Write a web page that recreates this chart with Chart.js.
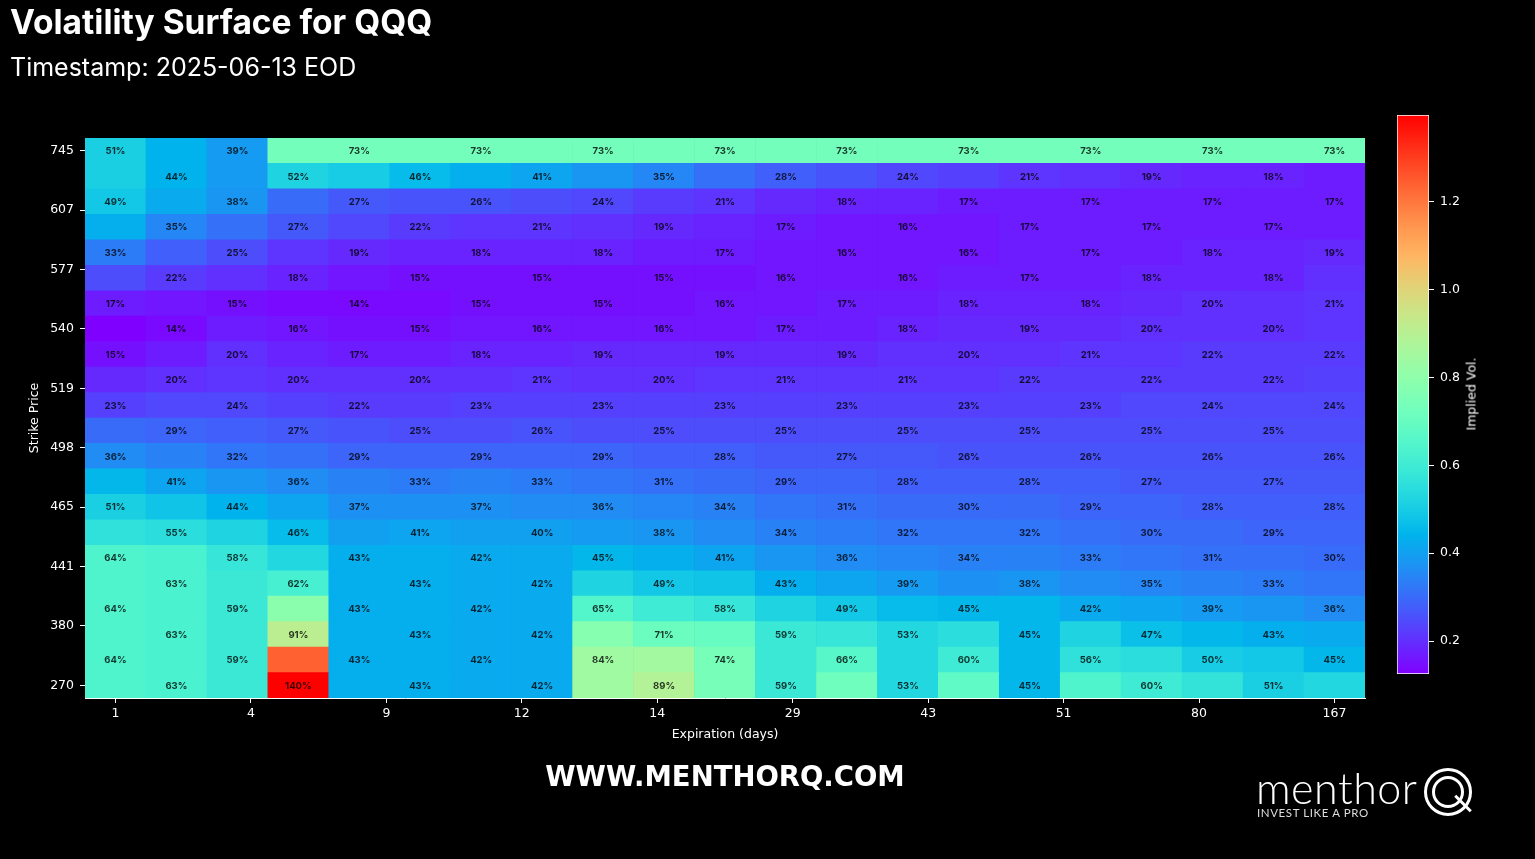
<!DOCTYPE html>
<html>
<head>
<meta charset="utf-8">
<script src="https://cdn.jsdelivr.net/npm/chart.js@4.4.1/dist/chart.umd.min.js"></script>
<style>
  html, body { margin:0; padding:0; background:#000; }
  body { width:1535px; height:859px; position:relative; overflow:hidden; font-family:'DejaVu Sans', sans-serif; }
  #main { position:absolute; left:0; top:0; }
  #cbar { position:absolute; left:1380px; top:100px; }
  .txt { position:absolute; color:#fff; white-space:nowrap; }
  #title { left:10px; top:2px; font-family:Inter, sans-serif; font-weight:700; font-size:33.5px; }
  #subtitle { left:10px; top:52px; font-family:Inter, sans-serif; font-weight:400; font-size:25px; }
  #cblabel { left:1471px; top:394px; font-size:12.5px; font-weight:400; transform:translate(-50%,-50%) rotate(-90deg); }
  #site { left:725px; top:776px; transform:translate(-50%,-50%); font-weight:700; font-size:27.5px; }
  #logo-text { left:1256px; top:762px; font-family:Lato, sans-serif; font-weight:300; font-size:43px; letter-spacing:0.5px; }
  #logo-tag { left:1257px; top:806px; font-family:Lato, sans-serif; font-size:11.5px; letter-spacing:0.6px; color:#ddd; }
  .ring { position:absolute; border:3px solid #fff; border-radius:50%; box-sizing:border-box; }
  #qtail { position:absolute; left:1452px; top:802px; width:22px; height:3px; background:#fff; transform:rotate(45deg); }
</style>
</head>
<body>
<canvas id="main" width="1535" height="859"></canvas>
<canvas id="cbar" width="155" height="600"></canvas>
<div class="txt" id="title">Volatility Surface for QQQ</div>
<div class="txt" id="subtitle">Timestamp: 2025-06-13 EOD</div>
<div class="txt" id="cblabel">Implied Vol.</div>
<div class="txt" id="site">WWW.MENTHORQ.COM</div>
<div class="txt" id="logo-text">menthor</div>
<div class="txt" id="logo-tag">INVEST LIKE A PRO</div>
<div class="ring" style="left:1424px;top:768px;width:48px;height:48px;"></div>
<div class="ring" style="left:1432px;top:776px;width:32px;height:32px;"></div>
<div id="qtail"></div>
<script>
// ---- data ----
const expirationLabels = ["1","4","9","12","14","29","43","51","80","167"];
const strikeLabels = ["745","607","577","540","519","498","465","441","380","270"];
// implied vol per strike row (top = 745 ... bottom = 270), per expiration column
const ivGrid = [
 [0.51,0.44,0.39,0.73,0.73,0.73,0.73,0.73,0.73,0.73,0.73,0.73,0.73,0.73,0.73,0.73,0.73,0.73,0.73,0.73,0.73],
 [0.51,0.44,0.39,0.52,0.50,0.46,0.43,0.41,0.38,0.35,0.31,0.28,0.26,0.24,0.23,0.21,0.20,0.19,0.18,0.18,0.17],
 [0.49,0.42,0.38,0.30,0.27,0.26,0.26,0.25,0.24,0.22,0.21,0.19,0.18,0.18,0.17,0.17,0.17,0.17,0.17,0.17,0.17],
 [0.43,0.35,0.31,0.27,0.24,0.22,0.21,0.21,0.20,0.19,0.18,0.17,0.16,0.16,0.16,0.17,0.17,0.17,0.17,0.17,0.17],
 [0.33,0.28,0.25,0.21,0.19,0.18,0.18,0.18,0.18,0.17,0.17,0.16,0.16,0.16,0.16,0.17,0.17,0.17,0.18,0.18,0.19],
 [0.25,0.22,0.20,0.18,0.16,0.15,0.15,0.15,0.15,0.15,0.15,0.16,0.16,0.16,0.17,0.17,0.17,0.18,0.18,0.18,0.20],
 [0.17,0.16,0.15,0.14,0.14,0.14,0.15,0.15,0.15,0.15,0.16,0.16,0.17,0.17,0.18,0.18,0.18,0.19,0.20,0.20,0.21],
 [0.125,0.14,0.17,0.16,0.15,0.15,0.16,0.16,0.16,0.16,0.16,0.17,0.17,0.18,0.19,0.19,0.19,0.20,0.20,0.20,0.21],
 [0.15,0.17,0.20,0.18,0.17,0.17,0.18,0.18,0.19,0.19,0.19,0.19,0.19,0.20,0.20,0.20,0.21,0.21,0.22,0.22,0.22],
 [0.19,0.20,0.21,0.20,0.20,0.20,0.20,0.21,0.20,0.20,0.21,0.21,0.21,0.21,0.21,0.22,0.22,0.22,0.22,0.22,0.23],
 [0.23,0.24,0.24,0.23,0.22,0.22,0.23,0.23,0.23,0.23,0.23,0.23,0.23,0.23,0.23,0.23,0.23,0.24,0.24,0.24,0.24],
 [0.30,0.29,0.28,0.27,0.26,0.25,0.25,0.26,0.25,0.25,0.25,0.25,0.25,0.25,0.25,0.25,0.25,0.25,0.25,0.25,0.25],
 [0.36,0.34,0.32,0.31,0.29,0.29,0.29,0.29,0.29,0.28,0.28,0.27,0.27,0.27,0.26,0.26,0.26,0.26,0.26,0.26,0.26],
 [0.45,0.41,0.38,0.36,0.34,0.33,0.34,0.33,0.32,0.31,0.30,0.29,0.29,0.28,0.28,0.28,0.28,0.27,0.27,0.27,0.27],
 [0.51,0.48,0.44,0.41,0.37,0.37,0.37,0.36,0.36,0.35,0.34,0.32,0.31,0.30,0.30,0.30,0.29,0.29,0.28,0.28,0.28],
 [0.56,0.55,0.52,0.46,0.40,0.41,0.40,0.40,0.39,0.38,0.36,0.34,0.33,0.32,0.32,0.32,0.31,0.30,0.30,0.29,0.29],
 [0.64,0.63,0.58,0.53,0.43,0.43,0.42,0.42,0.45,0.43,0.41,0.38,0.36,0.35,0.34,0.34,0.33,0.32,0.31,0.31,0.30],
 [0.64,0.63,0.59,0.62,0.43,0.43,0.42,0.42,0.52,0.49,0.48,0.43,0.41,0.39,0.37,0.38,0.36,0.35,0.34,0.33,0.32],
 [0.64,0.63,0.59,0.79,0.43,0.43,0.42,0.42,0.65,0.60,0.58,0.52,0.49,0.46,0.45,0.45,0.42,0.41,0.39,0.38,0.36],
 [0.64,0.63,0.59,0.91,0.43,0.43,0.42,0.42,0.78,0.71,0.70,0.59,0.58,0.53,0.55,0.45,0.52,0.47,0.45,0.43,0.42],
 [0.64,0.63,0.59,1.24,0.43,0.43,0.42,0.42,0.84,0.85,0.74,0.59,0.66,0.53,0.60,0.45,0.56,0.55,0.50,0.49,0.45],
 [0.64,0.63,0.59,1.398,0.43,0.43,0.42,0.42,0.84,0.89,0.74,0.59,0.72,0.53,0.68,0.45,0.64,0.60,0.57,0.51,0.53]
];
const colorbarTicks = [0.2, 0.4, 0.6, 0.8, 1.0, 1.2];

// ---- helpers ----
const nRows = ivGrid.length, nCols = ivGrid[0].length;
const allVals = ivGrid.flat();
const vmin = Math.min(...allVals), vmax = Math.max(...allVals);
function rainbow(t) {
  t = Math.min(1, Math.max(0, t));
  const r = Math.min(1, Math.abs(2 * t - 0.5));
  const g = Math.sin(Math.PI * t);
  const b = Math.cos(Math.PI * t / 2);
  return `rgb(${Math.round(r*255)},${Math.round(g*255)},${Math.round(b*255)})`;
}
const colorOf = v => rainbow((v - vmin) / (vmax - vmin));

const cells = [];
ivGrid.forEach((row, r) => row.forEach((v, c) => cells.push({ x: c, y: [r, r + 1], v, r, c })));

const xTickPos = expirationLabels.map((_, k) => k * (nCols - 1) / (expirationLabels.length - 1));
const yTickPos = strikeLabels.map((_, k) => 0.5 + k * (nRows - 1) / (strikeLabels.length - 1));

Chart.defaults.font.family = "'DejaVu Sans', sans-serif";
Chart.defaults.color = '#ffffff';

const cellLabels = {
  id: 'cellLabels',
  afterDatasetsDraw(chart) {
    const ctx = chart.ctx;
    const meta = chart.getDatasetMeta(0);
    ctx.save();
    ctx.font = "700 9.5px Inter, sans-serif";
    ctx.fillStyle = 'rgba(0,0,0,0.78)';
    ctx.textAlign = 'center';
    ctx.textBaseline = 'middle';
    meta.data.forEach((el, i) => {
      const d = cells[i];
      if ((d.r + d.c) % 2 !== 0) return;
      const p = el.getProps(['x', 'y', 'base'], true);
      ctx.fillText(Math.round(d.v * 100) + '%', p.x, (p.y + p.base) / 2 + 0.5);
    });
    ctx.restore();
  }
};

new Chart(document.getElementById('main'), {
  type: 'bar',
  data: {
    datasets: [{
      data: cells,
      backgroundColor: ctx => ctx.raw ? colorOf(ctx.raw.v) : '#000',
      borderWidth: 0,
      categoryPercentage: 1,
      barPercentage: 1
    }]
  },
  options: {
    responsive: false,
    animation: false,
    layout: { padding: { left: 0, right: 170, top: 138, bottom: 111 } },
    plugins: { legend: { display: false }, tooltip: { enabled: false } },
    scales: {
      x: {
        type: 'linear', min: -0.5, max: nCols - 0.5, offset: false,
        afterBuildTicks: s => { s.ticks = xTickPos.map(v => ({ value: v })); },
        afterFit: s => { s.height = 50; },
        ticks: { autoSkip: false, maxRotation: 0, padding: 3, color: '#fff', font: { size: 12.5 },
                 callback: (v, i) => expirationLabels[i] },
        grid: { display: true, drawOnChartArea: false, drawTicks: true, tickLength: 5, color: '#fff', offset: false },
        border: { display: true, color: '#fff', width: 1 },
        title: { display: true, text: 'Expiration (days)', color: '#fff', font: { size: 12.5 }, padding: { top: 0, bottom: 6 } }
      },
      y: {
        type: 'linear', min: 0, max: nRows, reverse: true,
        afterBuildTicks: s => { s.ticks = yTickPos.map(v => ({ value: v })); },
        afterFit: s => { s.width = 85; },
        ticks: { autoSkip: false, padding: 6, color: '#fff', font: { size: 12.5 },
                 callback: (v, i) => strikeLabels[i] },
        grid: { display: true, drawOnChartArea: false, drawTicks: true, tickLength: 5, color: '#fff' },
        border: { display: true, color: '#fff', width: 1 },
        title: { display: true, text: 'Strike Price', color: '#fff', font: { size: 12.5 }, padding: { top: 27, bottom: 0 } }
      }
    }
  },
  plugins: [cellLabels]
});

// ---- colorbar ----
new Chart(document.getElementById('cbar'), {
  type: 'bar',
  data: {
    labels: [''],
    datasets: [{
      data: [[vmin, vmax]],
      backgroundColor: ctx => {
        const chart = ctx.chart;
        if (!chart.chartArea) return '#000';
        const ys = chart.scales.y;
        const g = chart.ctx.createLinearGradient(0, ys.getPixelForValue(vmin), 0, ys.getPixelForValue(vmax));
        for (let i = 0; i <= 64; i++) { const t = i / 64; g.addColorStop(t, rainbow(t)); }
        return g;
      },
      borderColor: '#ffffff',
      borderWidth: 1,
      borderSkipped: false,
      categoryPercentage: 1,
      barPercentage: 1
    }]
  },
  options: {
    responsive: false,
    animation: false,
    layout: { padding: { left: 17, right: 56, top: 15, bottom: 26 } },
    plugins: { legend: { display: false }, tooltip: { enabled: false } },
    scales: {
      x: { display: false },
      y: {
        position: 'right', min: vmin, max: vmax,
        afterBuildTicks: s => { s.ticks = colorbarTicks.map(v => ({ value: v })); },
        afterFit: s => { s.width = 50; },
        ticks: { padding: 6, color: '#fff', font: { size: 12.5 }, callback: v => Number(v).toFixed(1) },
        grid: { display: true, drawOnChartArea: false, drawTicks: true, tickLength: 5, color: '#fff' },
        border: { display: false }
      }
    }
  }
});
</script>
</body>
</html>
